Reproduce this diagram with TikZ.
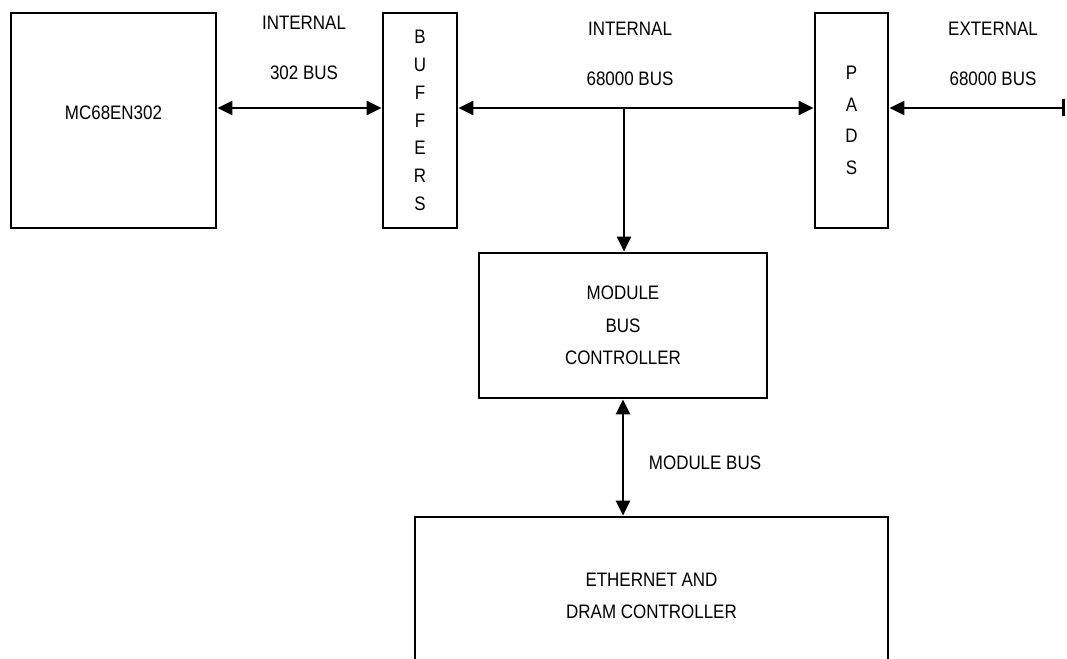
\documentclass[tikz,border=0pt]{standalone}
\usepackage{fontspec}
\setmainfont[FakeStretch=0.87]{Liberation Sans}
\usetikzlibrary{arrows.meta}

\tikzset{
  blocco/.style={draw, line width=2.7pt, inner sep=0pt, align=center},
  etichetta/.style={align=center, font=\fontsize{19.5}{50}\selectfont},
  punta/.tip={Triangle[length=15pt,width=14pt]},
  bus/.style={line width=2.7pt, punta-punta}
}

\begin{document}
\begin{tikzpicture}[x=1pt, y=-1pt, font=\fontsize{19.5}{32.5}\selectfont]
\clip (0,0) rectangle (1067,658);

% Blocchi
\node[blocco, minimum width=205pt, minimum height=215pt, text height=14pt, text depth=16pt] (cpu) at (113.5,120.5) {MC68EN302};
\node[blocco, minimum width=74pt, minimum height=215pt, font=\fontsize{19.5}{27.8}\selectfont] (buf) at (420,120.5) {B\\U\\F\\F\\E\\R\\S};
\node[blocco, minimum width=73pt, minimum height=215pt, font=\fontsize{19.5}{31.7}\selectfont] (pads) at (851.5,120.5) {P\\A\\D\\S};
\node[blocco, minimum width=288pt, minimum height=145pt] (mbc) at (623,325.5) {MODULE\\BUS\\CONTROLLER};
\node[blocco, minimum width=473pt, minimum height=158pt] (eth) at (651.5,596) {ETHERNET AND\\DRAM CONTROLLER};

% Etichette dei bus
\node[etichetta] (lint) at (304,47.5) {INTERNAL\\302 BUS};
\node[etichetta] (lmid) at (630,54) {INTERNAL\\68000 BUS};
\node[etichetta] (lext) at (993,54) {EXTERNAL\\68000 BUS};
\node (lmod) at (705,462.5) {MODULE BUS};

% Connessioni
\coordinate (tap) at (624,108);
\coordinate (ext) at (1065,108);
\draw[bus] (cpu.east |- 0,108) -- (buf.west |- 0,108);
\draw[bus] (buf.east |- 0,108) -- (pads.west |- 0,108);
\draw[line width=2.7pt, -punta] (tap) -- (tap |- mbc.north);
\draw[line width=2.7pt, punta-{Bar[width=17pt]}] (pads.east |- ext) -- (ext);
\draw[bus] (mbc.south) -- (mbc.south |- eth.north);

\end{tikzpicture}
\end{document}
